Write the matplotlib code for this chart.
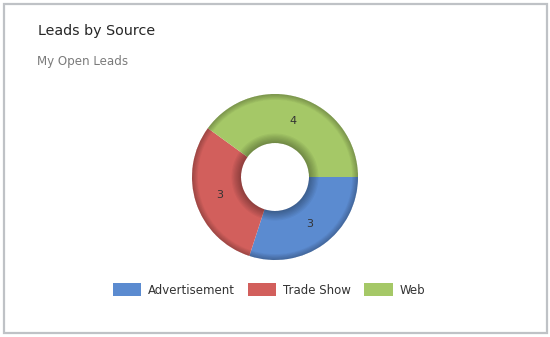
import matplotlib.pyplot as plt
import numpy as np
from matplotlib.patches import Rectangle, Patch, Wedge

# Data
sources = ["Advertisement", "Trade Show", "Web"]
lead_counts = [3, 3, 4]
colors = ["#5b8bd0", "#d25f5c", "#a5c867"]

W, H = 550, 337
fig = plt.figure(figsize=(W / 100, H / 100), dpi=100)
fig.patch.set_facecolor("white")

# outer frame of the dashboard tile
fig.patches.append(Rectangle((3.5 / W, 1 - 332.5 / H), 543 / W, 329 / H,
                             transform=fig.transFigure, fill=False,
                             edgecolor="#bfc2c6", linewidth=1.6))

fig.text(38 / W, 1 - 31 / H, "Leads by Source", fontsize=10.3,
         color="#262626", va="center", ha="left")
fig.text(37 / W, 1 - 61 / H, "My Open Leads", fontsize=8.6,
         color="#7b7b7b", va="center", ha="left")

# donut axes: center (275,177) px, outer radius 83 px
cx, cy, r = 275, 177, 83
ax = fig.add_axes([(cx - r) / W, 1 - (cy + r) / H, 2 * r / W, 2 * r / H])
hole = 34 / 83
wedges, texts = ax.pie(lead_counts, colors=colors, startangle=0,
                       counterclock=False, radius=1,
                       labels=[str(v) for v in lead_counts],
                       labeldistance=(1 + hole) / 2,
                       wedgeprops=dict(width=1 - hole, linewidth=0),
                       textprops=dict(fontsize=8, color="#333333",
                                      ha="center", va="center"))

# simple bevel shading: darker near inner and outer edges
for i in range(8):
    t = (i + 1) / 8
    ax.add_patch(Wedge((0, 0), 1, 0, 360, width=0.07 * (1 - t) + 0.01,
                       facecolor="black", alpha=0.03, linewidth=0))
    ax.add_patch(Wedge((0, 0), hole + 0.12 * (1 - t) + 0.01, 0, 360,
                       width=0.12 * (1 - t) + 0.01,
                       facecolor="black", alpha=0.045, linewidth=0))
for t in texts:
    t.set_zorder(5)
ax.set_xlim(-1, 1)
ax.set_ylim(-1, 1)
ax.set_aspect("equal")
ax.axis("off")

handles = [Patch(facecolor=c, edgecolor="none") for c in colors]
fig.legend(handles, sources, loc="center", bbox_to_anchor=(269 / W, 1 - 290 / H),
           ncol=3, frameon=False, fontsize=8.5, handlelength=2.4,
           handleheight=1.3, handletextpad=0.6, columnspacing=1.1,
           labelcolor="#333333")

fig.savefig("out.png", dpi=100)
